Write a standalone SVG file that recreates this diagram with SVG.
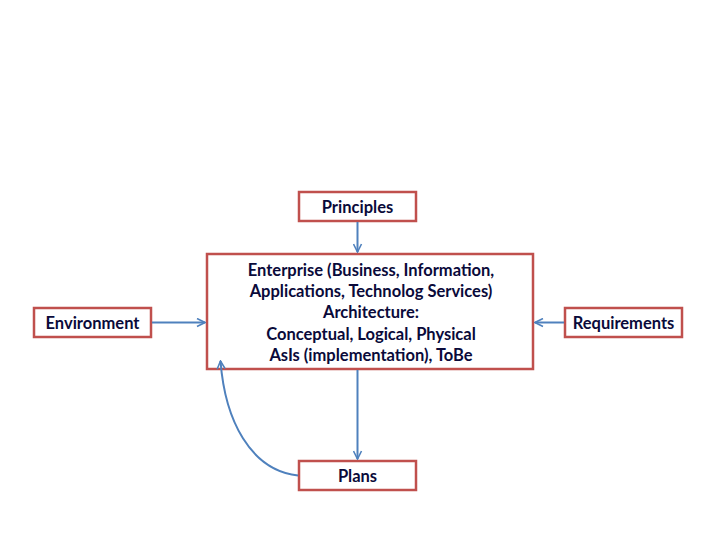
<svg xmlns="http://www.w3.org/2000/svg" width="720" height="540" viewBox="0 0 720 540">
<style>
.box{fill:#fff;stroke:#C0504D;stroke-width:2.5}
.lbl{font-family:Lato,"Liberation Sans",sans-serif;font-weight:bold;font-size:16.5px;fill:#0a0a3a;text-anchor:middle}
.con{fill:none;stroke:#4F81BD;stroke-width:2}
</style>
<defs>
<marker id="ah" viewBox="0 0 10 10" refX="9" refY="5" markerWidth="5" markerHeight="5" orient="auto" markerUnits="strokeWidth">
<path d="M1,1 L9,5 L1,9" fill="none" stroke="#4F81BD" stroke-width="1.6"/>
</marker>
</defs>
<rect width="720" height="540" fill="#fff"/>
<g id="principles">
<rect class="box" x="299" y="192" width="117" height="29"/>
<text class="lbl" x="357.5" y="213">Principles</text>
</g>
<g id="enterprise">
<rect class="box" x="207" y="254" width="326" height="115"/>
<text class="lbl" x="371" y="276">Enterprise (Business, Information,</text>
<text class="lbl" x="371" y="297">Applications, Technolog Services)</text>
<text class="lbl" x="371" y="318">Architecture:</text>
<text class="lbl" x="371" y="340">Conceptual, Logical, Physical</text>
<text class="lbl" x="371" y="361">AsIs (implementation), ToBe</text>
</g>
<g id="environment">
<rect class="box" x="34" y="308" width="117" height="29"/>
<text class="lbl" x="92.5" y="328.5">Environment</text>
</g>
<g id="requirements">
<rect class="box" x="565" y="308" width="117" height="29"/>
<text class="lbl" x="623.5" y="328.5">Requirements</text>
</g>
<g id="plans">
<rect class="box" x="299" y="461" width="117" height="29"/>
<text class="lbl" x="357.5" y="481.5">Plans</text>
</g>
<g id="connectors">
<line class="con" x1="357.5" y1="222" x2="357.5" y2="252" marker-end="url(#ah)"/>
<line class="con" x1="152" y1="322.5" x2="205" y2="322.5" marker-end="url(#ah)"/>
<line class="con" x1="564" y1="322.5" x2="535" y2="322.5" marker-end="url(#ah)"/>
<line class="con" x1="357.5" y1="370" x2="357.5" y2="459" marker-end="url(#ah)"/>
<path class="con" d="M298,475.5 C250,470 225,420 220.5,361" marker-end="url(#ah)"/>
</g>
</svg>
